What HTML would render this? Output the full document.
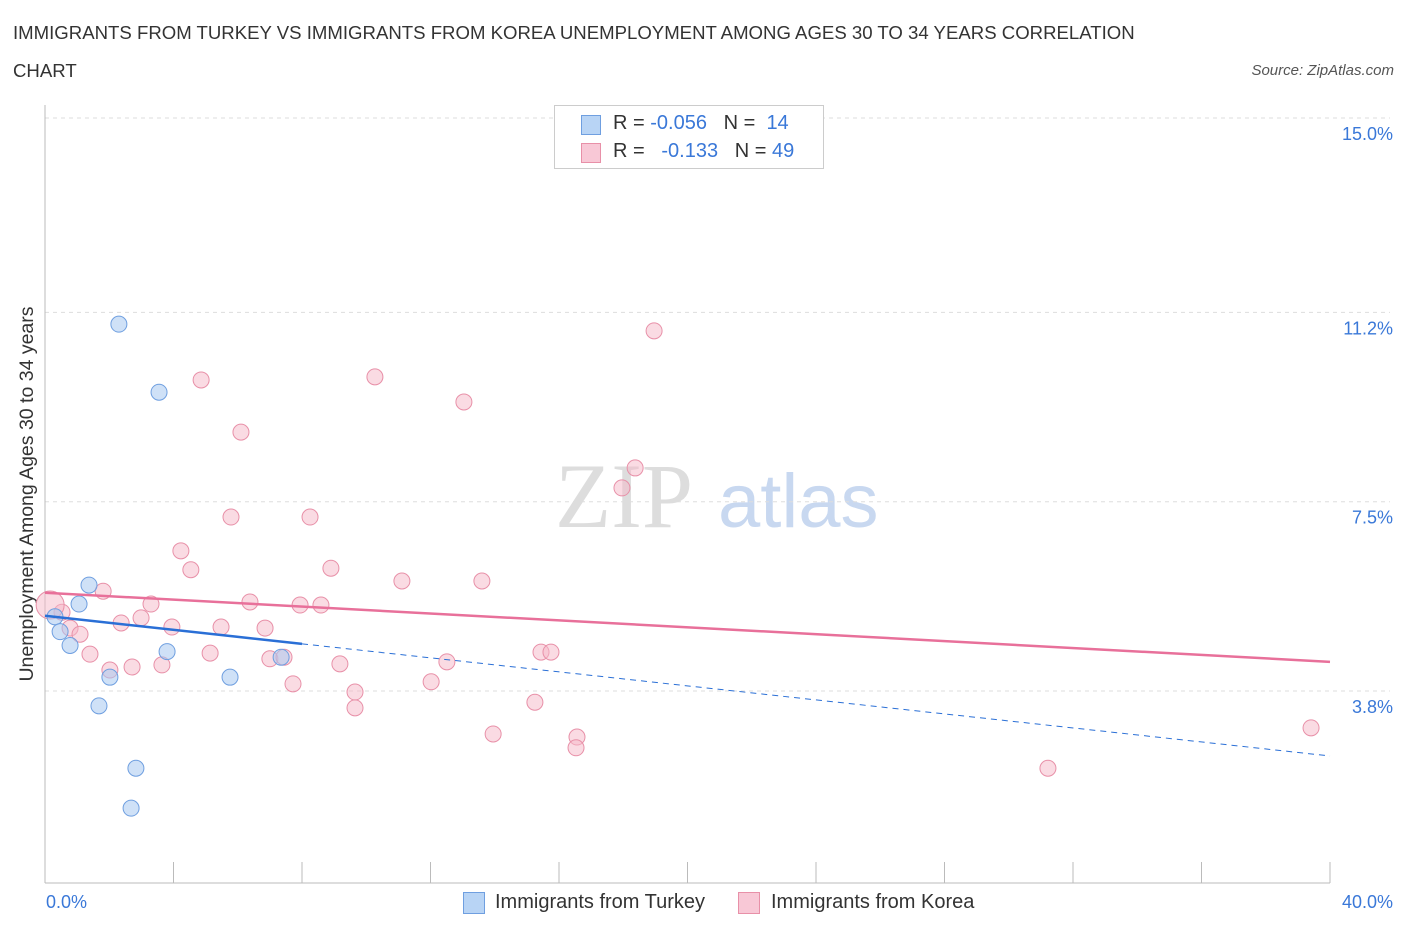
<!DOCTYPE html>
<html><head><meta charset="utf-8"><style>
body{margin:0;background:#fff;font-family:"Liberation Sans",sans-serif;}
#wrap{position:relative;width:1406px;height:930px;overflow:hidden;}
.t{position:absolute;white-space:nowrap;}
</style></head><body>
<div id="wrap">
<div class="t" style="left:13px;top:14px;font-size:18.6px;color:#333;line-height:38px;width:1180px;white-space:normal">IMMIGRANTS FROM TURKEY VS IMMIGRANTS FROM KOREA UNEMPLOYMENT AMONG AGES 30 TO 34 YEARS CORRELATION CHART</div>
<div class="t" style="right:12px;top:62px;font-size:15px;color:#555;font-style:italic">Source: ZipAtlas.com</div>
<svg id="svg" width="1406" height="930" style="position:absolute;left:0;top:0"></svg>
</div>
<script>
const yTicks=[15.0,11.2,7.5,3.8];
const yTickLabels=["15.0%","11.2%","7.5%","3.8%"];
const xTickLabels=["0.0%","40.0%"];
const turkeyX=[2.30,3.55,1.37,1.06,0.31,0.47,0.78,3.80,2.02,5.76,7.35,1.68,2.83,2.68];
const turkeyY=[10.97,9.64,5.87,5.50,5.25,4.96,4.69,4.57,4.07,4.07,4.46,3.51,2.29,1.51];
const koreaX=[18.96,4.86,10.27,13.04,6.10,18.37,17.96,5.79,8.25,4.23,4.54,8.90,11.11,13.60,1.81,3.30,6.38,7.94,8.59,2.99,2.37,3.95,5.48,6.85,0.53,0.78,1.09,1.40,5.14,7.00,7.44,2.02,2.71,3.64,9.18,12.51,15.44,15.75,7.72,12.02,9.65,9.65,15.25,13.95,16.56,16.53,39.41,31.22,0.16];
const koreaY=[10.84,9.88,9.94,9.45,8.86,8.16,7.77,7.20,7.20,6.54,6.17,6.20,5.95,5.95,5.75,5.50,5.54,5.48,5.48,5.23,5.13,5.05,5.05,5.03,5.34,5.03,4.91,4.52,4.54,4.43,4.46,4.21,4.27,4.31,4.33,4.37,4.56,4.56,3.94,3.98,3.78,3.47,3.58,2.96,2.90,2.69,3.08,2.29,5.48];
const turkeyLine=[5.27,2.53];
const koreaLine=[5.72,4.37];
const X=v=>45+v*32.125;
const Y=v=>118+(15-v)*51.16;
const svg=document.getElementById('svg');
const NS='http://www.w3.org/2000/svg';
function mk(tag,a){const e=document.createElementNS(NS,tag);for(const k in a)e.setAttribute(k,a[k]);svg.appendChild(e);return e;}
let w=mk('text',{x:555,y:527,'font-size':92,fill:'#ddd','font-family':'Liberation Serif'});w.textContent='ZIP';


let w2=mk('text',{x:718,y:527,'font-size':76,fill:'#c8d8f0','font-family':'Liberation Sans'});w2.textContent='atlas';


yTicks.forEach((v,i)=>{
 let g=mk('line',{x1:45,x2:1390,y1:Y(v),y2:Y(v),stroke:'#ddd','stroke-dasharray':'4,4'});
 
 
 let t=mk('text',{x:1393,y:Y(v)+22,'text-anchor':'end','font-size':18,fill:'#3a78d8'});t.textContent=yTickLabels[i];
 
 
});
let ax=mk('line',{x1:45,x2:45,y1:105,y2:883,stroke:'#bbb'});


let bx=mk('line',{x1:45,x2:1330,y1:883,y2:883,stroke:'#bbb'});


for(let i=0;i<=10;i++){let tk=mk('line',{x1:45+i*128.5,x2:45+i*128.5,y1:862,y2:883,stroke:'#bbb'});
 
 }
[[0,'start',46],[40,'end',1393]].forEach((d,i)=>{let t=mk('text',{x:d[2],y:908,'text-anchor':d[1],'font-size':18,fill:'#3a78d8'});t.textContent=xTickLabels[i];
 
 });
let yt=mk('text',{transform:'translate(33,494) rotate(-90)','text-anchor':'middle','font-size':19.5,fill:'#333'});yt.textContent='Unemployment Among Ages 30 to 34 years';


koreaX.forEach((x,i)=>{let c=mk('circle',{cx:X(x),cy:Y(koreaY[i]),r:i==koreaX.length-1?14:8,fill:'rgba(245,184,200,0.5)',stroke:'#e890a8','stroke-width':1});
 
 });
turkeyX.forEach((x,i)=>{let c=mk('circle',{cx:X(x),cy:Y(turkeyY[i]),r:8,fill:'rgba(168,200,240,0.55)',stroke:'#6f9fe0','stroke-width':1});
 
 });
const slopeT=(turkeyLine[1]-turkeyLine[0])/40;
let l1=mk('line',{x1:X(0),y1:Y(turkeyLine[0]),x2:X(8),y2:Y(turkeyLine[0]+slopeT*8),stroke:'#2a6fd6','stroke-width':2.5});


let l2=mk('line',{x1:X(8),y1:Y(turkeyLine[0]+slopeT*8),x2:X(40),y2:Y(turkeyLine[1]),stroke:'#2a6fd6','stroke-width':1,'stroke-dasharray':'6,5'});


let l3=mk('line',{x1:X(0),y1:Y(koreaLine[0]),x2:X(40),y2:Y(koreaLine[1]),stroke:'#e8709a','stroke-width':2.5});


</script>
<div style="position:absolute;left:554px;top:105px;width:268px;height:62px;border:1px solid #ccc;background:#fff;font-size:20px;color:#333">
 <div style="position:absolute;left:26px;top:9px;width:18px;height:18px;background:#b8d4f5;border:1px solid #6f9fe0"></div>
 <div class="t" style="left:58px;top:6px">R = <span style="color:#3a78d8">-0.056</span>&nbsp;&nbsp;&nbsp;N = &nbsp;<span style="color:#3a78d8">14</span></div>
 <div style="position:absolute;left:26px;top:37px;width:18px;height:18px;background:#f8c8d6;border:1px solid #e890a8"></div>
 <div class="t" style="left:58px;top:34px">R = &nbsp;&nbsp;<span style="color:#3a78d8">-0.133</span>&nbsp;&nbsp;&nbsp;N = <span style="color:#3a78d8">49</span></div>
</div>
<div style="position:absolute;left:463px;top:891px;font-size:20px;color:#333">
 <div style="position:absolute;left:0;top:1px;width:20px;height:20px;background:#b8d4f5;border:1px solid #6f9fe0"></div>
 <div class="t" style="left:32px;top:0">Immigrants from Turkey</div></div>
<div style="position:absolute;left:738px;top:891px;font-size:20px;color:#333">
 <div style="position:absolute;left:0;top:1px;width:20px;height:20px;background:#f8c8d6;border:1px solid #e890a8"></div>
 <div class="t" style="left:33px;top:0">Immigrants from Korea</div></div>
</body></html>
